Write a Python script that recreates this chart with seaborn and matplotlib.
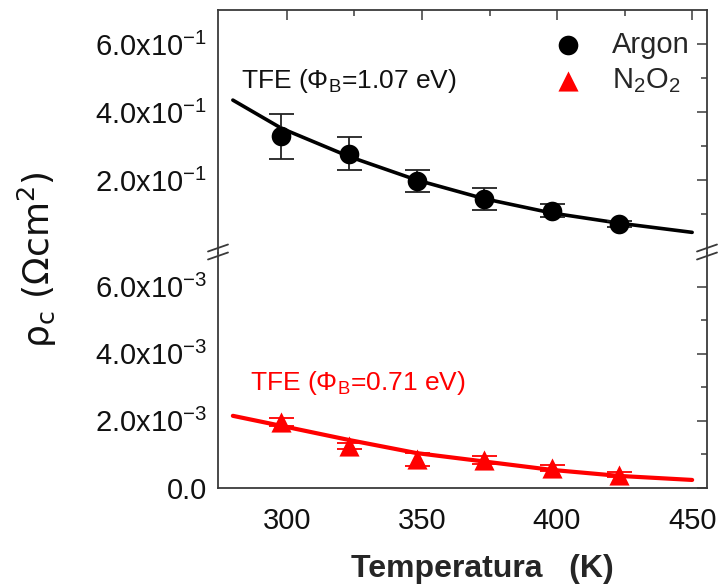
import numpy as np
import pandas as pd
import matplotlib
matplotlib.use("Agg")
import matplotlib.pyplot as plt
import seaborn as sns

# ---------------- data ----------------
temps = [298, 323, 348, 373, 398, 423]
argon_rho = [0.329, 0.277, 0.197, 0.144, 0.110, 0.071]
argon_err = [0.066, 0.049, 0.033, 0.032, 0.020, 0.008]
n2o2_rho = [1.96e-3, 1.25e-3, 0.85e-3, 0.83e-3, 0.59e-3, 0.40e-3]
n2o2_err = [0.12e-3, 0.08e-3, 0.18e-3, 0.12e-3, 0.09e-3, 0.08e-3]

fit_T = [280, 298, 323, 348, 373, 398, 423, 450]
fit_argon = [0.435, 0.352, 0.269, 0.200, 0.145, 0.103, 0.073, 0.046]
fit_n2o2 = [2.15e-3, 1.85e-3, 1.43e-3, 1.04e-3, 0.79e-3, 0.54e-3, 0.36e-3, 0.24e-3]

x_ticks = [300, 350, 400, 450]
top_ticks = [0.2, 0.4, 0.6]
top_labels = [r"2.0x10$^{-1}$", r"4.0x10$^{-1}$", r"6.0x10$^{-1}$"]
bot_ticks = [0.0, 2e-3, 4e-3, 6e-3]
bot_labels = ["0.0", r"2.0x10$^{-3}$", r"4.0x10$^{-3}$", r"6.0x10$^{-3}$"]

label_argon = "Argon"
label_n2o2 = r"N$_2$O$_2$"
ann_argon = r"TFE ($\Phi_{\rm B}$=1.07 eV)"
ann_n2o2 = r"TFE ($\Phi_{\rm B}$=0.71 eV)"
xlabel = "Temperatura   (K)"
ylabel = r"ρ$_{\rm c}$ (Ωcm$^{\rm 2}$)"

# ---------------- style ----------------
sns.set_theme(style="white")
plt.rcParams["font.family"] = ["Liberation Sans", "DejaVu Sans"]
plt.rcParams["mathtext.fontset"] = "custom"
plt.rcParams["mathtext.rm"] = "Liberation Sans"
plt.rcParams["mathtext.it"] = "Liberation Sans"
plt.rcParams["mathtext.bf"] = "Liberation Sans:bold"
plt.rcParams["mathtext.sf"] = "Liberation Sans"

W, H = 723, 585
fig = plt.figure(figsize=(W / 100, H / 100), dpi=100)
left, right = 218 / W, 707 / W
ax_top = fig.add_axes([left, 1 - 248 / H, right - left, (248 - 10) / H])
ax_bot = fig.add_axes([left, 1 - 488 / H, right - left, (488 - 253) / H], sharex=ax_top)

spine_c = "#3a3a3a"
for ax in (ax_top, ax_bot):
    for s in ax.spines.values():
        s.set_color(spine_c)
        s.set_linewidth(1.3)
    ax.tick_params(which="both", direction="in", colors=spine_c, labelcolor="#111111",
                   top=True, right=True, labelsize=21, width=1.1)
    ax.tick_params(which="major", length=7)
    ax.tick_params(which="minor", length=4)
    ax.tick_params(axis="y", pad=8)
    ax.set_facecolor("white")

ax_top.spines["bottom"].set_visible(False)
ax_bot.spines["top"].set_visible(False)
ax_top.tick_params(which="both", bottom=False, labelbottom=False)
ax_bot.tick_params(which="both", top=False)

# ---------------- top panel (Argon) ----------------
df_fit = pd.DataFrame({"T": fit_T, "argon": fit_argon, "n2o2": fit_n2o2})
df_pts = pd.DataFrame({"T": temps, "argon": argon_rho, "aerr": argon_err,
                       "n2o2": n2o2_rho, "nerr": n2o2_err})

sns.lineplot(data=df_fit, x="T", y="argon", ax=ax_top, color="black", linewidth=2.6)
ax_top.errorbar(df_pts["T"], df_pts["argon"], yerr=df_pts["aerr"], fmt="none",
                ecolor="#222222", elinewidth=1.3, capsize=9, capthick=1.3, zorder=3)
sns.scatterplot(data=df_pts, x="T", y="argon", ax=ax_top, color="black", marker="o",
                s=200, edgecolor="black", linewidth=0, zorder=4, label=label_argon)

# ---------------- bottom panel (N2O2) ----------------
sns.lineplot(data=df_fit, x="T", y="n2o2", ax=ax_bot, color="#ff0000", linewidth=3)
ax_bot.errorbar(df_pts["T"], df_pts["n2o2"], yerr=df_pts["nerr"], fmt="none",
                ecolor="#ff0000", elinewidth=1.3, capsize=9, capthick=1.3, zorder=3)
sns.scatterplot(data=df_pts, x="T", y="n2o2", ax=ax_bot, color="#ff0000", marker="^",
                s=210, edgecolor="#ff0000", linewidth=0, zorder=4, label=label_n2o2)

for ax in (ax_top, ax_bot):
    lg = ax.get_legend()
    if lg is not None:
        lg.remove()

# ---------------- axes ----------------
ax_top.set_xlim(274.5, 455.5)
ax_top.set_ylim(0, 0.7)
ax_bot.set_ylim(0, 7e-3)

ax_bot.set_xticks(x_ticks)
ax_bot.set_xticks([325, 375, 425], minor=True)
ax_top.set_yticks(top_ticks)
ax_top.set_yticklabels(top_labels)
ax_top.set_yticks([0.1, 0.3, 0.5], minor=True)
ax_bot.set_yticks(bot_ticks)
ax_bot.set_yticklabels(bot_labels)
ax_bot.set_yticks([1e-3, 3e-3, 5e-3], minor=True)
ax_bot.tick_params(axis="x", pad=14)
ax_top.set_xlabel("")
ax_top.set_ylabel("")
ax_bot.set_ylabel("")
ax_bot.set_xlabel(xlabel, fontsize=23, fontweight="bold", labelpad=13)
ax_bot.xaxis.label.set_x((482 - 218) / (707 - 218))
fig.text(37 / W, 1 - 260 / H, ylabel, rotation=90, fontsize=26, ha="center", va="center",
         color="#111111", family=["DejaVu Sans"], math_fontfamily="dejavusans")

# legend
h1, l1 = ax_top.get_legend_handles_labels()
h2, l2 = ax_bot.get_legend_handles_labels()
ax_top.legend(h1 + h2, l1 + l2, loc="upper right", bbox_to_anchor=(1.0, 0.985),
              frameon=False, fontsize=21, handletextpad=0.5, labelspacing=0.25,
              markerscale=1.0, borderaxespad=0.2)

# annotations
ax_top.text(241 / W, 1 - 81 / H, ann_argon, transform=fig.transFigure, fontsize=19,
            color="#111111", ha="left", va="center")
ax_bot.text(250 / W, 1 - 383 / H, ann_n2o2, transform=fig.transFigure, fontsize=19,
            color="#ff0000", ha="left", va="center")

# break marks
for xc in (218, 707):
    for yc in (248, 256):
        fig.add_artist(plt.Line2D([(xc - 10) / W, (xc + 10) / W],
                                  [1 - (yc + 3.5) / H, 1 - (yc - 3.5) / H],
                                  color=spine_c, linewidth=1.3, transform=fig.transFigure))
    fig.add_artist(plt.Line2D([xc / W, xc / W], [1 - 253 / H, 1 - 248 / H],
                              color=spine_c, linewidth=1.3, transform=fig.transFigure))

fig.savefig("out.png", dpi=100, facecolor="white")
